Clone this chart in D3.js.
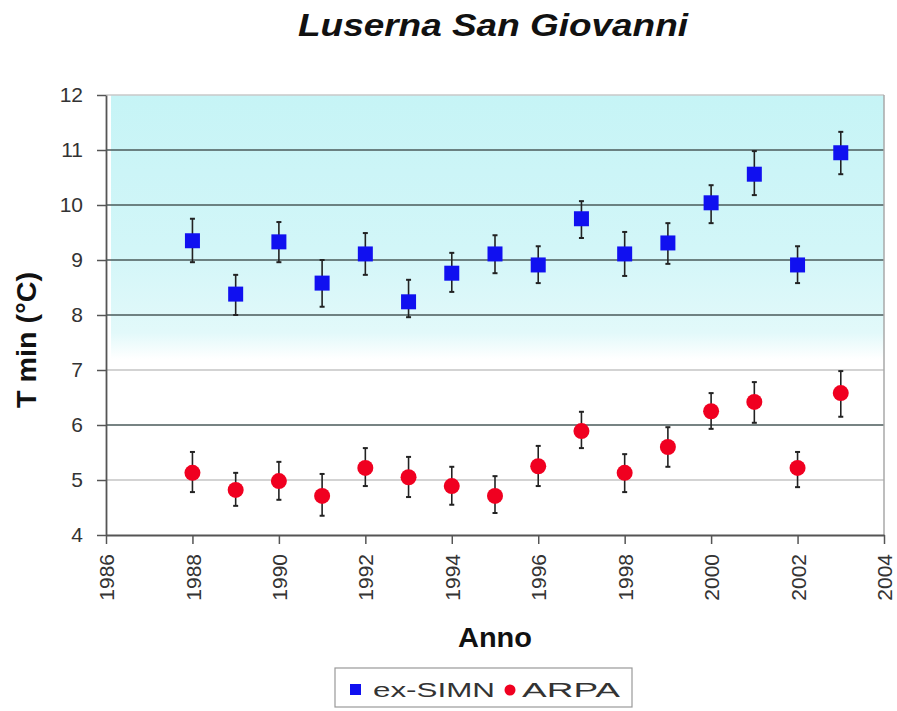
<!DOCTYPE html>
<html>
<head>
<meta charset="utf-8">
<script src="https://cdn.jsdelivr.net/npm/d3@7"></script>
<style>
  body { margin: 0; background: #fff; }
  svg { font-family: "Liberation Sans", Arial, sans-serif; }
</style>
</head>
<body>
<svg id="chart" width="897" height="711"></svg>
<script>
// values
const years = [1988, 1989, 1990, 1991, 1992, 1993, 1994, 1995, 1996, 1997, 1998, 1999, 2000, 2001, 2002, 2003];

const simnMean = [9.35, 8.38, 9.33, 8.58, 9.11, 8.24, 8.76, 9.11, 8.91, 9.75, 9.11, 9.31, 10.04, 10.56, 8.91, 10.95];
const simnLow  = [8.96, 8.00, 8.96, 8.15, 8.73, 7.96, 8.42, 8.76, 8.58, 9.40, 8.71, 8.93, 9.67, 10.18, 8.58, 10.56];
const simnHigh = [9.75, 8.73, 9.69, 9.00, 9.49, 8.64, 9.13, 9.45, 9.25, 10.07, 9.51, 9.67, 10.36, 10.98, 9.25, 11.33];

const arpaMean = [5.13, 4.82, 4.98, 4.71, 5.22, 5.05, 4.89, 4.71, 5.25, 5.89, 5.13, 5.60, 6.25, 6.42, 5.22, 6.58];
const arpaLow  = [4.78, 4.53, 4.64, 4.35, 4.89, 4.69, 4.55, 4.40, 4.89, 5.58, 4.78, 5.24, 5.93, 6.04, 4.87, 6.15];
const arpaHigh = [5.51, 5.13, 5.33, 5.11, 5.58, 5.42, 5.24, 5.07, 5.62, 6.24, 5.47, 5.96, 6.58, 6.78, 5.51, 6.98];

const xTicks = [1986, 1988, 1990, 1992, 1994, 1996, 1998, 2000, 2002, 2004];
const yTicks = [4, 5, 6, 7, 8, 9, 10, 11, 12];
const darkGrid = [6, 8, 9, 10, 11];

const svg = d3.select('#chart');
const margin = { left: 106, top: 95, right: 13, bottom: 176 };
const width = 897 - margin.left - margin.right;
const height = 711 - margin.top - margin.bottom;

const x = d3.scaleLinear().domain([1986, 2004]).range([0, width]);
const y = d3.scaleLinear().domain([4, 12]).range([height, 0]);

const defs = svg.append('defs');
const grad = defs.append('linearGradient')
  .attr('id', 'bg').attr('x1', 0).attr('y1', 0).attr('x2', 0).attr('y2', 1);
grad.append('stop').attr('offset', '0%').attr('stop-color', '#c6f4f6');
grad.append('stop').attr('offset', '35%').attr('stop-color', '#d2f6f8');
grad.append('stop').attr('offset', '54%').attr('stop-color', '#e2f9fa');
grad.append('stop').attr('offset', '60%').attr('stop-color', '#ffffff');
grad.append('stop').attr('offset', '100%').attr('stop-color', '#ffffff');

const main = svg.append('g')
  .attr('class', 'main')
  .attr('transform', `translate(${margin.left},${margin.top})`);

main.append('rect')
  .attr('x', 5)
  .attr('width', width - 5)
  .attr('height', height)
  .attr('fill', 'url(#bg)');

// grid lines
main.append('g')
  .attr('class', 'grid')
  .selectAll('line')
  .data(yTicks.filter(d => d > 4 && d < 12))
  .enter()
  .append('line')
  .attr('x1', 0)
  .attr('x2', width)
  .attr('y1', d => y(d))
  .attr('y2', d => y(d))
  .attr('stroke', d => darkGrid.includes(d) ? '#4a5a5a' : '#c4c4c4')
  .attr('stroke-width', d => darkGrid.includes(d) ? 1.6 : 1.3);

// frame: top and right
main.append('line')
  .attr('x1', 0).attr('x2', width).attr('y1', 0).attr('y2', 0)
  .attr('stroke', '#c8c8c8').attr('stroke-width', 1.5);
main.append('line')
  .attr('x1', width).attr('x2', width).attr('y1', 0).attr('y2', height)
  .attr('stroke', '#a8a8a8').attr('stroke-width', 1.5);

// axes
const xAxis = d3.axisBottom(x).tickValues(xTicks).tickFormat(d3.format('d')).tickSize(9).tickSizeOuter(0);
const yAxis = d3.axisLeft(y).tickValues(yTicks).tickFormat(d3.format('d')).tickSize(9).tickSizeOuter(0);

const gx = main.append('g')
  .attr('transform', `translate(0,${height})`)
  .call(xAxis);
gx.select('.domain').attr('stroke', '#555').attr('stroke-width', 1.8);
gx.selectAll('.tick line').attr('stroke', '#555').attr('stroke-width', 1.5);
gx.selectAll('.tick text')
  .attr('font-size', 21)
  .attr('fill', '#333')
  .attr('text-anchor', 'end')
  .attr('transform', 'rotate(-90)')
  .attr('x', -19)
  .attr('y', 0)
  .attr('dy', '0.36em');

const gy = main.append('g').call(yAxis);
gy.select('.domain').attr('stroke', '#555').attr('stroke-width', 1.8);
gy.selectAll('.tick line').attr('stroke', '#555').attr('stroke-width', 1.5);
gy.selectAll('.tick text')
  .attr('font-size', 21)
  .attr('fill', '#333')
  .attr('x', -23);

// error bars
const drawErrors = (cls, lows, highs) => {
  const g = main.append('g').attr('class', cls);
  const rows = years.map((yr, i) => ({ yr, lo: lows[i], hi: highs[i] }));
  g.selectAll('line.stem')
    .data(rows).enter().append('line')
    .attr('class', 'stem')
    .attr('x1', d => x(d.yr)).attr('x2', d => x(d.yr))
    .attr('y1', d => y(d.lo)).attr('y2', d => y(d.hi))
    .attr('stroke', '#222').attr('stroke-width', 1.6);
  ['lo', 'hi'].forEach(k => {
    g.selectAll(`line.cap-${k}`)
      .data(rows).enter().append('line')
      .attr('class', `cap-${k}`)
      .attr('x1', d => x(d.yr) - 2.5).attr('x2', d => x(d.yr) + 2.5)
      .attr('y1', d => y(d[k])).attr('y2', d => y(d[k]))
      .attr('stroke', '#222').attr('stroke-width', 2);
  });
};

drawErrors('simnErr', simnLow, simnHigh);
drawErrors('arpaErr', arpaLow, arpaHigh);

const sq = 15;
main.append('g').attr('class', 'simn')
  .selectAll('rect')
  .data(years.map((yr, i) => ({ yr, v: simnMean[i] })))
  .enter().append('rect')
  .attr('x', d => x(d.yr) - sq / 2)
  .attr('y', d => y(d.v) - sq / 2)
  .attr('width', sq)
  .attr('height', sq)
  .attr('fill', '#1010f0');

main.append('g').attr('class', 'arpa')
  .selectAll('circle')
  .data(years.map((yr, i) => ({ yr, v: arpaMean[i] })))
  .enter().append('circle')
  .attr('cx', d => x(d.yr))
  .attr('cy', d => y(d.v))
  .attr('r', 8)
  .attr('fill', '#f00020');

// titles
svg.append('text')
  .attr('x', 493).attr('y', 36)
  .attr('text-anchor', 'middle')
  .attr('font-size', 31)
  .attr('font-weight', 'bold')
  .attr('font-style', 'italic')
  .attr('fill', '#111')
  .attr('textLength', 390)
  .attr('lengthAdjust', 'spacingAndGlyphs')
  .text('Luserna San Giovanni');

svg.append('text')
  .attr('transform', 'translate(36,340) rotate(-90)')
  .attr('text-anchor', 'middle')
  .attr('font-size', 27)
  .attr('font-weight', 'bold')
  .attr('fill', '#111')
  .attr('textLength', 136)
  .attr('lengthAdjust', 'spacingAndGlyphs')
  .text('T min (°C)');

svg.append('text')
  .attr('x', 495).attr('y', 647)
  .attr('text-anchor', 'middle')
  .attr('font-size', 27)
  .attr('font-weight', 'bold')
  .attr('fill', '#111')
  .attr('textLength', 74)
  .attr('lengthAdjust', 'spacingAndGlyphs')
  .text('Anno');

// legend
const legend = svg.append('g').attr('transform', 'translate(335,668)');
legend.append('rect')
  .attr('width', 297).attr('height', 39)
  .attr('fill', '#fff').attr('stroke', '#999').attr('stroke-width', 1.2);
legend.append('rect')
  .attr('x', 15).attr('y', 16).attr('width', 11).attr('height', 11)
  .attr('fill', '#1010f0');
legend.append('text')
  .attr('x', 38).attr('y', 29)
  .attr('font-size', 21).attr('fill', '#333')
  .attr('textLength', 122)
  .attr('lengthAdjust', 'spacingAndGlyphs')
  .text('ex-SIMN');
legend.append('circle')
  .attr('cx', 175).attr('cy', 22).attr('r', 5.5)
  .attr('fill', '#f00020');
legend.append('text')
  .attr('x', 187).attr('y', 29)
  .attr('font-size', 21).attr('fill', '#333')
  .attr('textLength', 98)
  .attr('lengthAdjust', 'spacingAndGlyphs')
  .text('ARPA');
</script>
</body>
</html>
